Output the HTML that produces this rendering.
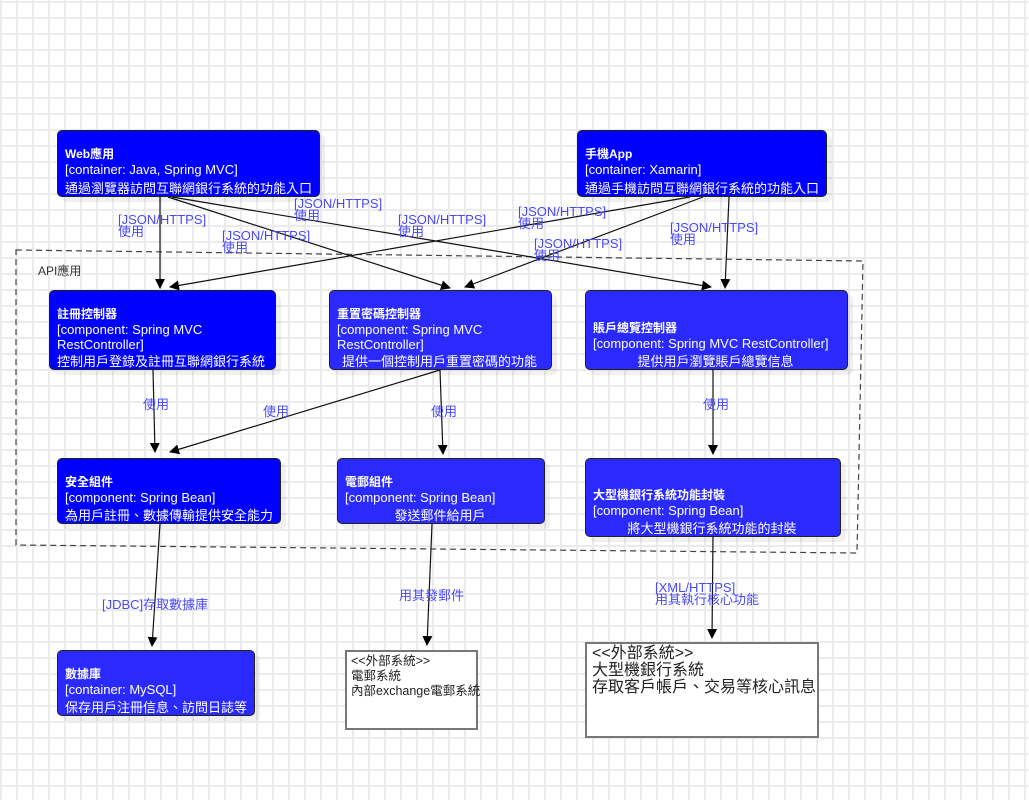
<!DOCTYPE html>
<html><head><meta charset="utf-8"><style>
html,body{margin:0;padding:0}
body{width:1029px;height:800px;position:relative;overflow:hidden;background-color:#fff;
background-image:linear-gradient(to right,#ebebeb 2px,transparent 2px),linear-gradient(to bottom,#ebebeb 2px,transparent 2px);
background-size:16px 16px;background-position:0 1px;
font-family:"Liberation Sans","Noto Sans CJK TC",sans-serif}
.b{position:absolute;border:1px solid #222;border-radius:5px;color:#fff;font-size:13px;line-height:15px;box-shadow:5px 5px 0 rgba(0,0,0,0.06);box-sizing:border-box;padding-left:7px}
.b b{font-size:12px}
.p{background:#0000ff}.l{background:#2a2aff}
.b b{display:block}
.d{position:absolute;bottom:0px;left:7px;right:2px;white-space:nowrap}
.e{position:absolute;border:2px solid #777;background:#fff;box-sizing:border-box;color:#222;white-space:nowrap}
.t{position:absolute;color:#4848ff;font-size:13px;line-height:12px;white-space:nowrap}
svg{position:absolute;left:0;top:0}
</style></head><body>
<svg width="1029" height="800">
<defs><marker id="a" markerWidth="10" markerHeight="10" refX="9" refY="5" orient="auto" markerUnits="userSpaceOnUse"><path d="M0,0 L10,5 L0,10 z" fill="#000"/></marker></defs>
<polygon points="16,250 863,261 857,553 16,545" fill="none" stroke="#444" stroke-dasharray="6,4" stroke-width="1.2"/>
<g stroke="#111" stroke-width="1.2" fill="none" marker-end="url(#a)">
<line x1="160" y1="197" x2="160" y2="288"/>
<line x1="168" y1="197" x2="450" y2="288"/>
<line x1="172" y1="197" x2="711" y2="287"/>
<line x1="690" y1="197" x2="170" y2="287"/>
<line x1="703" y1="197" x2="465" y2="287"/>
<line x1="729" y1="197" x2="725" y2="288"/>
<line x1="153" y1="370" x2="155" y2="452"/>
<line x1="440" y1="370" x2="170" y2="452"/>
<line x1="440" y1="370" x2="443" y2="454"/>
<line x1="713" y1="370" x2="713" y2="454"/>
<line x1="160" y1="524" x2="152" y2="646"/>
<line x1="432" y1="524" x2="427" y2="645"/>
<line x1="713" y1="537" x2="712" y2="638"/>
</g>
</svg>
<div style="position:absolute;left:38px;top:262px;font-size:12px;color:#333">API應用</div>

<div class="b p" style="left:57px;top:130px;width:263px;height:67px;padding-top:16px"><b>Web應用</b>[container: Java, Spring MVC]<div class="d">通過瀏覽器訪問互聯網銀行系統的功能入口</div></div>
<div class="b p" style="left:577px;top:130px;width:250px;height:67px;padding-top:16px"><b>手機App</b>[container: Xamarin]<div class="d">通過手機訪問互聯網銀行系統的功能入口</div></div>
<div class="b p" style="left:49px;top:290px;width:227px;height:80px;padding-top:16px"><b>註冊控制器</b>[component: Spring MVC<br>RestController]<div class="d">控制用戶登錄及註冊互聯網銀行系統</div></div>
<div class="b l" style="left:329px;top:290px;width:223px;height:80px;padding-top:16px"><b>重置密碼控制器</b>[component: Spring MVC<br>RestController]<div class="d" style="left:12px">提供一個控制用戶重置密碼的功能</div></div>
<div class="b l" style="left:585px;top:290px;width:263px;height:80px;padding-top:30px"><b>賬戶總覽控制器</b>[component: Spring MVC RestController]<div class="d" style="left:0;text-align:center">提供用戶瀏覽賬戶總覽信息</div></div>
<div class="b p" style="left:57px;top:458px;width:224px;height:66px;padding-top:16px"><b>安全組件</b>[component: Spring Bean]<div class="d">為用戶註冊、數據傳輸提供安全能力</div></div>
<div class="b l" style="left:337px;top:458px;width:208px;height:66px;padding-top:16px"><b>電郵組件</b>[component: Spring Bean]<div class="d" style="left:0;text-align:center">發送郵件給用戶</div></div>
<div class="b l" style="left:585px;top:458px;width:256px;height:79px;padding-top:29px"><b>大型機銀行系統功能封裝</b>[component: Spring Bean]<div class="d" style="left:0;text-align:center">將大型機銀行系統功能的封裝</div></div>
<div class="b l" style="left:57px;top:650px;width:198px;height:66px;padding-top:16px"><b>數據庫</b>[container: MySQL]<div class="d">保存用戶注冊信息、訪問日誌等</div></div>

<div class="e" style="left:345px;top:650px;width:133px;height:80px;font-size:12.5px;line-height:15px;padding:2px 4px">&lt;&lt;外部系統&gt;&gt;<br>電郵系統<br>內部exchange電郵系統</div>
<div class="e" style="left:585px;top:642px;width:234px;height:96px;font-size:16px;line-height:17px;padding:1px 5px">&lt;&lt;外部系統&gt;&gt;<br>大型機銀行系統<br>存取客戶帳戶、交易等核心訊息</div>

<div class="t" style="left:118px;top:214px">[JSON/HTTPS]<br>使用</div>
<div class="t" style="left:294px;top:198px">[JSON/HTTPS]<br>使用</div>
<div class="t" style="left:222px;top:230px">[JSON/HTTPS]<br>使用</div>
<div class="t" style="left:398px;top:214px">[JSON/HTTPS]<br>使用</div>
<div class="t" style="left:518px;top:206px">[JSON/HTTPS]<br>使用</div>
<div class="t" style="left:534px;top:238px">[JSON/HTTPS]<br>使用</div>
<div class="t" style="left:670px;top:222px">[JSON/HTTPS]<br>使用</div>
<div class="t" style="left:143px;top:399px">使用</div>
<div class="t" style="left:263px;top:406px">使用</div>
<div class="t" style="left:431px;top:406px">使用</div>
<div class="t" style="left:703px;top:399px">使用</div>
<div class="t" style="left:102px;top:599px">[JDBC]存取數據庫</div>
<div class="t" style="left:399px;top:590px">用其發郵件</div>
<div class="t" style="left:655px;top:582px">[XML/HTTPS]<br>用其執行核心功能</div>
</body></html>
